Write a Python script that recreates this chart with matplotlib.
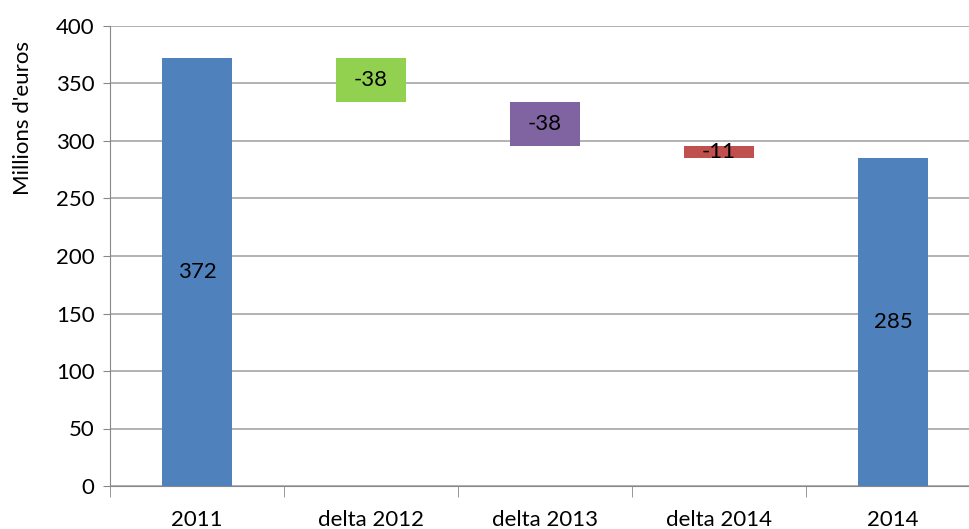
import matplotlib.pyplot as plt
import numpy as np

# data
categories = ['2011', 'delta 2012', 'delta 2013', 'delta 2014', '2014']
values = [372, -38, -38, -11, 285]
is_total = [True, False, False, False, True]
colors = ['#4F81BD', '#92D050', '#8064A2', '#C0504D', '#4F81BD']

plt.rcParams['font.family'] = ['Lato', 'DejaVu Sans']
fs = 16

fig = plt.figure(figsize=(9.7, 5.29), dpi=100)
ax = fig.add_axes([110 / 970, 43 / 529, 870 / 970, 460 / 529])

# waterfall bottoms and heights
bottoms = []
heights = []
running = 0
for v, tot in zip(values, is_total):
    if tot:
        bottoms.append(0)
        heights.append(v)
        running = v
    else:
        new = running + v
        bottoms.append(min(running, new))
        heights.append(abs(v))
        running = new

x = np.arange(len(categories))
ax.bar(x, heights, bottom=bottoms, width=0.4, color=colors, zorder=3)

for xi, b, h, v in zip(x, bottoms, heights, values):
    ax.text(xi, b + h / 2, str(v), ha='center', va='center',
            fontsize=fs, color='black', zorder=4)

ax.set_xlim(-0.5, 4.5)
ax.set_ylim(0, 400)
ax.set_yticks(range(0, 401, 50))
ax.set_ylabel("Millions d'euros", fontsize=fs)
ax.yaxis.set_label_coords(-0.088, 0.8)

ax.set_xticks(x)
ax.set_xticklabels(categories, fontsize=fs)
ax.set_xticks(np.arange(-0.5, 5, 1), minor=True)
ax.tick_params(axis='x', which='major', length=0, pad=17)
ax.tick_params(axis='x', which='minor', length=8, color='#888888', direction='out')
ax.tick_params(axis='y', labelsize=fs, length=5, color='#888888', pad=6)

ax.grid(axis='y', color='#a6a6a6', linewidth=1.2, zorder=0)
for s in ['top', 'right']:
    ax.spines[s].set_visible(False)
ax.spines['left'].set_color('#888888')
ax.spines['bottom'].set_color('#888888')

fig.savefig('out.png', dpi=100)
